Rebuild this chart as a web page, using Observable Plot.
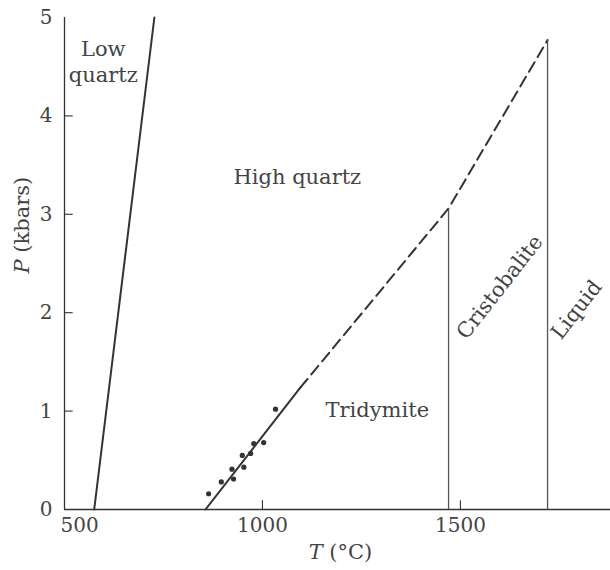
<!DOCTYPE html>
<html>
<head>
<meta charset="utf-8">
<script src="https://cdn.jsdelivr.net/npm/d3@7"></script>
<script src="https://cdn.jsdelivr.net/npm/@observablehq/plot@0.6"></script>
<style>
  html, body { margin: 0; padding: 0; background: #fff; }
</style>
</head>
<body>
<div id="chart"></div>
<script>
// ---- data ----
const lowQuartzT = [575, 727];
const lowQuartzP = [0, 5];

const solidT = [856, 1096];
const solidP = [0, 1.24];

const dashedT = [1096, 1470, 1720];
const dashedP = [1.24, 3.06, 4.77];

const cristobaliteT = 1470, cristobaliteTopP = 3.06;
const liquidT = 1720, liquidTopP = 4.77;

const expT = [864, 896, 927, 923, 953, 949, 970, 978, 1003, 1033];
const expP = [0.16, 0.28, 0.31, 0.41, 0.43, 0.55, 0.57, 0.67, 0.68, 1.02];

const fieldNames = ["Low\nquartz", "High quartz", "Tridymite", "Cristobalite", "Liquid"];
const fieldT = [598, 1088, 1290, 1596, 1790];
const fieldP = [4.56, 3.39, 1.03, 2.27, 2.04];
const fieldRotate = [0, 0, 0, -52, -52];

const xTicks = [1000, 1500];
const xFirstTick = [500];
const yTicks = [1, 2, 3, 4];
const yTickLabels = [0, 1, 2, 3, 4, 5];

const xLabel = "T (°C)";
const yLabel = "P (kbars)";

// ---- tables built from the arrays ----
const zip = (T, P) => T.map((t, i) => ({T: t, P: P[i]}));
const lowQuartz = zip(lowQuartzT, lowQuartzP);
const solid = zip(solidT, solidP);
const dashed = zip(dashedT, dashedP);
const pts = zip(expT, expP);
const verticals = [
  {T: cristobaliteT, P1: 0, P2: cristobaliteTopP},
  {T: liquidT, P1: 0, P2: liquidTopP}
];
const fields = fieldNames.map((n, i) => ({name: n, T: fieldT[i], P: fieldP[i], r: fieldRotate[i]}));

const ink = "#333";
const txt = "#444";
const font = "DejaVu Serif";
const fmt = d => String(d);

const chart = Plot.plot({
  width: 610,
  height: 570,
  marginLeft: 64,
  marginRight: 0,
  marginTop: 17,
  marginBottom: 61,
  style: {fontFamily: font, fontSize: "20px", color: txt, background: "#fff"},
  x: {domain: [500, 1879], axis: null},
  y: {domain: [0, 5], axis: null},
  marks: [
    // axis lines
    Plot.ruleX([500], {y1: 0, y2: 5, stroke: ink, strokeWidth: 1.3}),
    Plot.ruleY([0], {stroke: ink, strokeWidth: 1.3}),
    // inward ticks
    Plot.ruleX(xTicks, {y1: 0, y2: 0.09, stroke: ink, strokeWidth: 1.1}),
    Plot.ruleY(yTicks, {x1: 500, x2: 522, stroke: ink, strokeWidth: 1.1}),
    // tick labels
    Plot.axisX(xTicks, {tickSize: 0, tickPadding: 8, fontSize: 20, fill: txt, label: null, tickFormat: fmt}),
    Plot.axisX(xFirstTick, {tickSize: 0, tickPadding: 8, fontSize: 20, fill: txt, textAnchor: "start", dx: -4, label: null, tickFormat: fmt}),
    Plot.axisY(yTickLabels, {tickSize: 0, tickPadding: 12, fontSize: 20, fill: txt, label: null, tickFormat: fmt}),
    // phase boundaries
    Plot.line(lowQuartz, {x: "T", y: "P", stroke: ink, strokeWidth: 2}),
    Plot.line(solid, {x: "T", y: "P", stroke: ink, strokeWidth: 2}),
    Plot.line(dashed, {x: "T", y: "P", stroke: ink, strokeWidth: 2, strokeDasharray: "11,6"}),
    Plot.ruleX(verticals, {x: "T", y1: "P1", y2: "P2", stroke: "#555", strokeWidth: 1.3}),
    // experimental points
    Plot.dot(pts, {x: "T", y: "P", r: 2.6, fill: ink, stroke: null}),
    // field labels
    Plot.text(fields, {x: "T", y: "P", text: "name", rotate: "r", fontSize: 21, fill: txt, lineHeight: 1.25}),
    // axis titles
    Plot.text([xLabel], {frameAnchor: "bottom", dx: 3, dy: 49, fontSize: 21, fill: txt, className: "xlab"}),
    Plot.text([yLabel], {frameAnchor: "left", rotate: -90, dx: -42, dy: 10, fontSize: 21, fill: txt, className: "ylab"})
  ]
});

// italicise the variable letters in the axis titles
d3.select(chart).selectAll("g.xlab text").each(function() {
  const t = d3.select(this);
  t.text(null);
  t.append("tspan").attr("font-style", "italic").text(xLabel.slice(0, 1));
  t.append("tspan").text(xLabel.slice(1));
});
d3.select(chart).selectAll("g.ylab text").each(function() {
  const t = d3.select(this);
  t.text(null);
  t.append("tspan").attr("font-style", "italic").text(yLabel.slice(0, 1));
  t.append("tspan").text(yLabel.slice(1));
});

document.getElementById("chart").appendChild(chart);
</script>
</body>
</html>
